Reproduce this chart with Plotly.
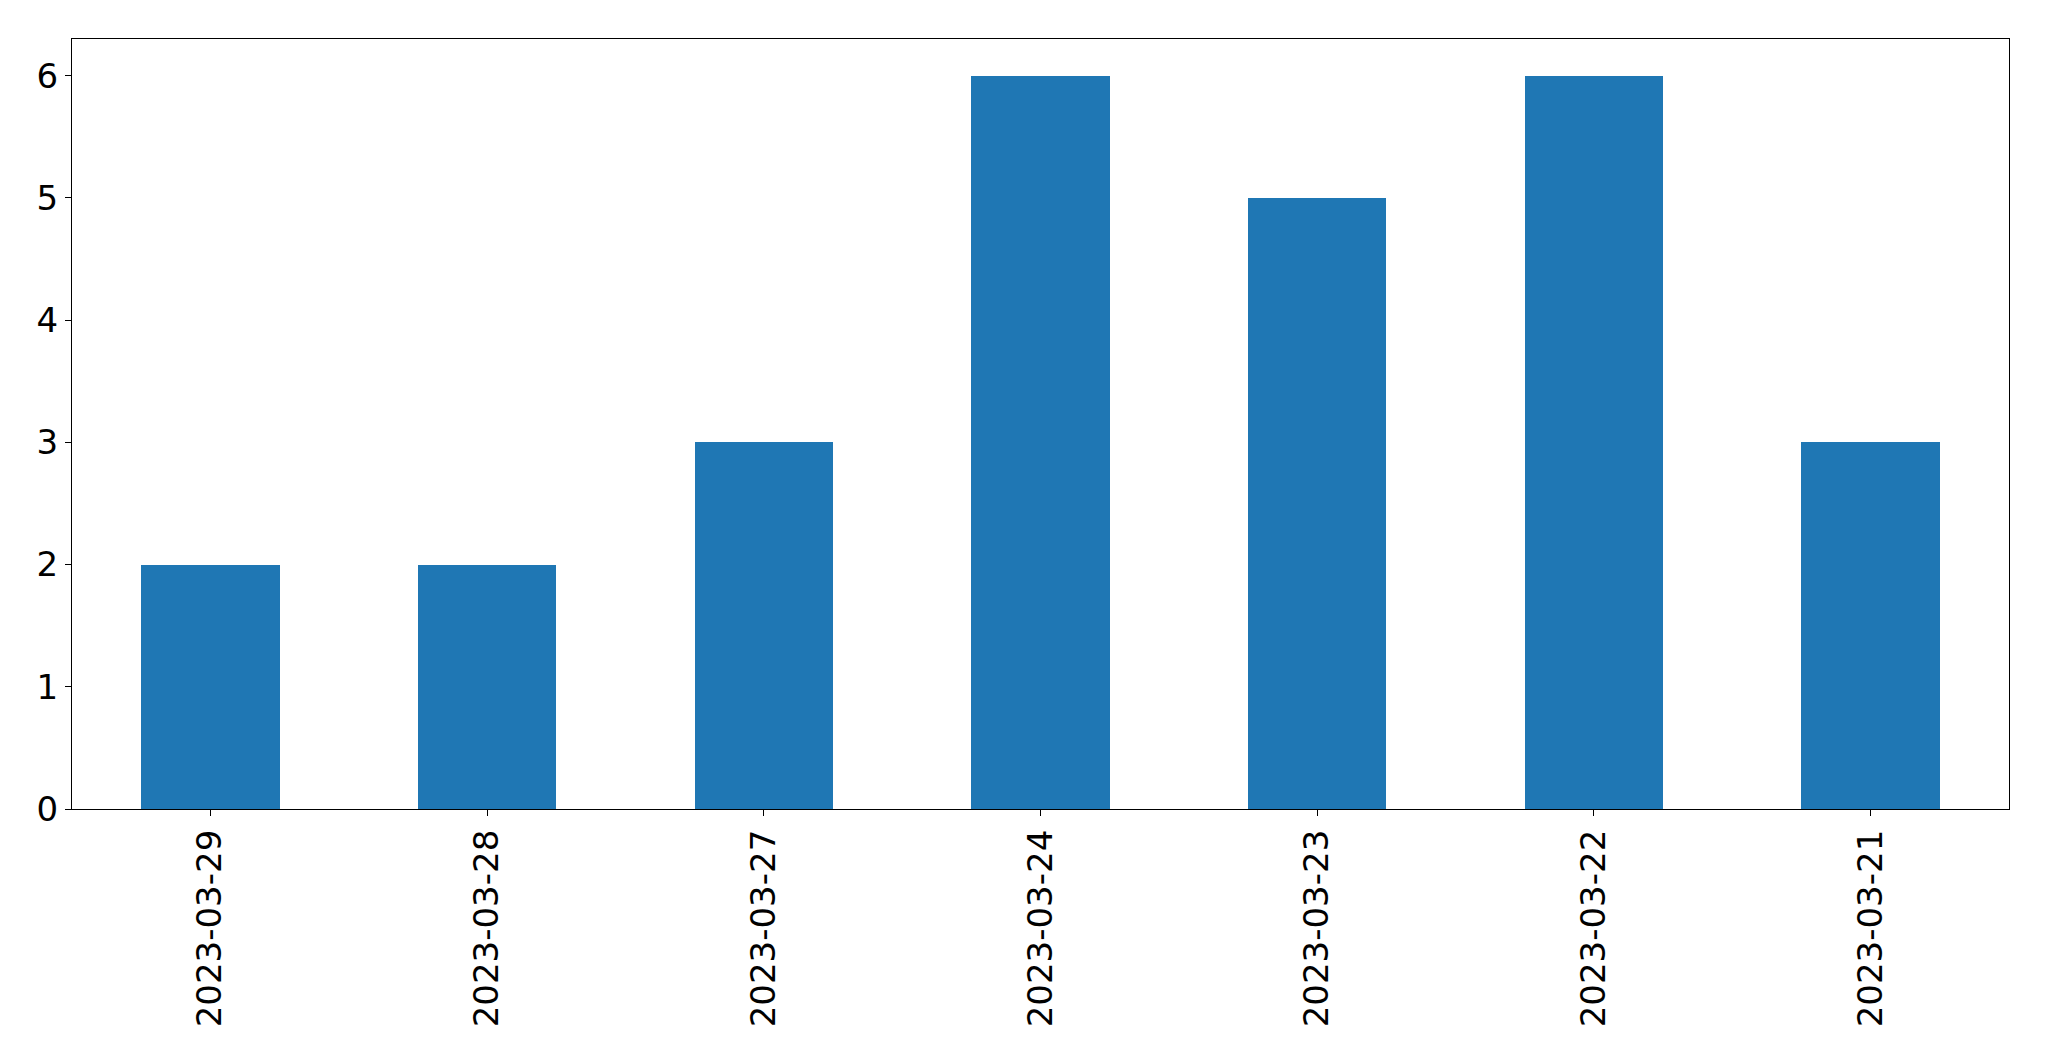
import plotly.graph_objects as go

categories = ["2023-03-29", "2023-03-28", "2023-03-27", "2023-03-24", "2023-03-23", "2023-03-22", "2023-03-21"]
values = [2, 2, 3, 6, 5, 6, 3]
y_ticks = [0, 1, 2, 3, 4, 5, 6]

fig = go.Figure(go.Bar(x=list(range(len(categories))), y=values, width=0.5,
                       marker=dict(color="#1f77b4", line=dict(width=0))))

fig.update_layout(
    width=2033, height=1045,
    margin=dict(l=64, r=32, t=31, b=244),
    plot_bgcolor="white", paper_bgcolor="white",
    font=dict(family="DejaVu Sans", size=34, color="black"),
    showlegend=False,
    bargap=0,
)
fig.update_xaxes(range=[-0.5, 6.5], tickmode="array", tickvals=list(range(len(categories))),
                 ticktext=categories, tickangle=-90, showgrid=False, zeroline=False,
                 showline=True, linecolor="black", linewidth=1.3, mirror=True, automargin=False,
                 ticks="outside", ticklen=6, tickwidth=1.3, tickcolor="black")
fig.update_yaxes(range=[0, 6.3], tickmode="array", tickvals=y_ticks, showgrid=False, zeroline=False,
                 showline=True, linecolor="black", linewidth=1.3, mirror=True, automargin=False,
                 ticks="outside", ticklen=6, tickwidth=1.3, tickcolor="black")

fig.write_html("out.html")
